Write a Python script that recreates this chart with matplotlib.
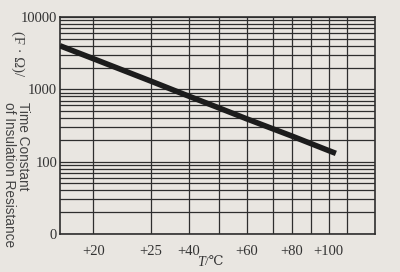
#!/usr/bin/env python3
# -*- coding: utf-8 -*-

import numpy as np
import matplotlib
matplotlib.use('Agg')
import matplotlib.pyplot as plt
from matplotlib.ticker import FixedLocator, LogLocator, NullFormatter

# temperature (deg C) along the line and the time constant
temps = [10, 20, 25, 40, 50, 60, 70, 80, 90, 100, 104]
tau = [4000, 2650, 1300, 800, 550, 390, 285, 225, 178, 142, 130]

# x tick labels and y tick labels
xticks = [20, 25, 40, 60, 80, 100]
xtick_labels = ['+20', '+25', '+40', '+60', '+80', '+100']
yticks = [10, 100, 1000, 10000]
ytick_labels = ['0', '100', '1000', '10000']

# the printed axis is not linear in T: gridline temps and where they sit
grid_temps = [10, 20, 25, 40, 50, 60, 70, 80, 90, 100, 110, 120]
grid_pos = [0, .106, .288, .41, .506, .593, .675, .737, .796, .853, .91, 1]

paper = '#e9e6e1'
ink = '#2e2e2e'


def fwd(t):
    return np.interp(t, grid_temps, grid_pos)


def inv(p):
    return np.interp(p, grid_pos, grid_temps)


def main():
    fig = plt.figure(figsize=(4, 2.72), dpi=100, facecolor=paper)
    ax = fig.add_axes([0.15, 0.14, 0.7875, 0.7975], facecolor=paper)

    ax.set_xscale('function', functions=(fwd, inv))
    ax.set_yscale('log')
    ax.set_xlim(10, 120)
    ax.set_ylim(10, 10000)

    # vertical grid at every gridline temp, horizontal log grid
    for t in grid_temps[1:-1]:
        ax.axvline(t, color=ink, lw=0.9, zorder=1)
    ax.yaxis.set_minor_locator(LogLocator(base=10, subs=np.arange(2, 10)))
    ax.yaxis.set_minor_formatter(NullFormatter())
    ax.grid(True, axis='y', which='both', color=ink, lw=0.9, zorder=1)

    ax.plot(temps, tau, color='#1c1c1c', lw=4, solid_capstyle='butt', zorder=3)

    ax.xaxis.set_major_locator(FixedLocator(xticks))
    ax.set_xticklabels(xtick_labels)
    ax.xaxis.set_minor_locator(FixedLocator([]))
    ax.yaxis.set_major_locator(FixedLocator(yticks))
    ax.set_yticklabels(ytick_labels)

    ax.tick_params(axis='both', which='both', length=0, colors='#333333')
    ax.tick_params(axis='x', pad=8)
    ax.tick_params(axis='y', pad=2)
    for lab in ax.get_xticklabels() + ax.get_yticklabels():
        lab.set_fontfamily('Liberation Serif')
        lab.set_fontsize(10.5)

    for sp in ax.spines.values():
        sp.set_color(ink)
        sp.set_linewidth(1.2)

    # x label: italic T then /degC
    fig.text(205 / 400, 1 - 262 / 272, 'T', ha='right', va='center',
             fontsize=10, color='#333333', family='Liberation Serif',
             style='italic')
    fig.text(205 / 400, 1 - 262 / 272, '/\u2103', ha='left', va='center',
             fontsize=9.5, color='#333333',
             family=['Liberation Serif', 'DejaVu Serif'])

    fig.text(17.5 / 400, 1 - 54 / 272, '(F \u00b7 \u03a9)/', rotation=-90,
             ha='center', va='center', fontsize=10.5, color='#444444',
             family='Liberation Serif')
    fig.text(16 / 400, 1 - 102 / 272, 'Time Constant\nof Insulation Resistance',
             rotation=-90, ha='center', va='top', multialignment='left',
             linespacing=0.95, fontsize=9.8, color='#444444',
             family='Liberation Sans')

    fig.savefig('out.png', dpi=100, facecolor=paper)


if __name__ == '__main__':
    main()
